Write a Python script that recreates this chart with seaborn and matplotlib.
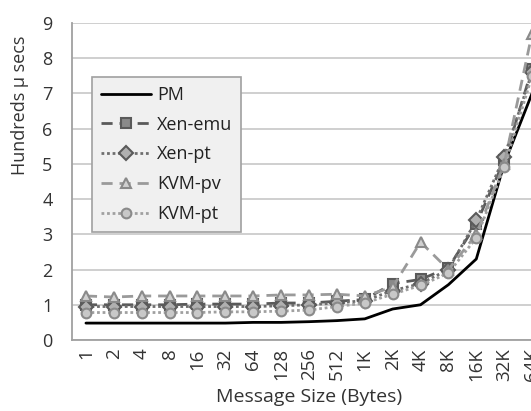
import matplotlib
matplotlib.use("Agg")
import matplotlib.pyplot as plt
from matplotlib.lines import Line2D
import seaborn as sns
import pandas as pd
import numpy as np

sizes = ["1", "2", "4", "8", "16", "32", "64", "128", "256", "512",
         "1K", "2K", "4K", "8K", "16K", "32K", "64K"]

pm = [0.48, 0.48, 0.48, 0.48, 0.48, 0.48, 0.5, 0.5, 0.52, 0.55,
      0.6, 0.88, 1.0, 1.57, 2.3, 5.0, 7.0]
xen_emu = [1.0, 1.0, 1.0, 1.0, 1.02, 1.02, 1.02, 1.05, 1.05, 1.1,
           1.15, 1.6, 1.72, 2.05, 3.3, 5.1, 7.7]
xen_pt = [0.95, 0.95, 0.95, 0.95, 0.95, 0.95, 0.95, 0.97, 1.0, 1.05,
          1.12, 1.4, 1.6, 2.0, 3.4, 5.2, 7.6]
kvm_pv = [1.25, 1.22, 1.25, 1.25, 1.25, 1.25, 1.25, 1.28, 1.28, 1.3,
          1.25, 1.5, 2.78, 2.0, 3.0, 5.0, 8.7]
kvm_pt = [0.78, 0.78, 0.78, 0.78, 0.78, 0.8, 0.8, 0.82, 0.85, 0.95,
          1.05, 1.3, 1.55, 1.9, 2.9, 4.9, 7.5]

series_names = ["PM", "Xen-emu", "Xen-pt", "KVM-pv", "KVM-pt"]
series_values = [pm, xen_emu, xen_pt, kvm_pv, kvm_pt]

# line colour, linestyle, marker, marker edge, marker face
styles = {
    "PM": dict(color="black", ls="-", marker=None, mec="black", mfc="black"),
    "Xen-emu": dict(color="#5a5a5a", ls=(0, (4, 2.5)), marker="s", mec="#5a5a5a", mfc="#8a8a8a"),
    "Xen-pt": dict(color="#6e6e6e", ls=(0, (1, 1)), marker="D", mec="#5a5a5a", mfc="#b0b0b0"),
    "KVM-pv": dict(color="#9a9a9a", ls=(0, (4, 2.5)), marker="^", mec="#8a8a8a", mfc="#d0d0d0"),
    "KVM-pt": dict(color="#a0a0a0", ls=(0, (1, 1)), marker="o", mec="#8a8a8a", mfc="#c8c8c8"),
}

frames = []
for name, vals in zip(series_names, series_values):
    frames.append(pd.DataFrame({"pos": np.arange(len(sizes)), "size": sizes,
                                "value": vals, "series": name}))
df = pd.concat(frames, ignore_index=True)

sns.set_style("white")
plt.rcParams["font.family"] = ["Open Sans", "DejaVu Sans"]

fig = plt.figure(figsize=(5.31, 4.11), dpi=100)
ax = fig.add_axes([72 / 531, 1 - 340 / 411, (546 - 72) / 531, (340 - 23) / 411])

handles = []
for name in series_names:
    st = styles[name]
    sub = df[df["series"] == name]
    sns.lineplot(data=sub, x="pos", y="value", ax=ax, color=st["color"],
                 linestyle=st["ls"], marker=st["marker"], markersize=7,
                 markeredgecolor=st["mec"], markerfacecolor=st["mfc"],
                 markeredgewidth=1.5, linewidth=2, zorder=3)
    handles.append(Line2D([], [], color=st["color"], linestyle=st["ls"],
                          marker=st["marker"], markersize=7,
                          markeredgecolor=st["mec"], markerfacecolor=st["mfc"],
                          markeredgewidth=1.5, linewidth=2))

ax.set_xlim(-0.5, len(sizes) - 0.5)
ax.set_ylim(0, 9)
ax.set_yticks(range(10))
ax.set_xticks(range(len(sizes)))
ax.set_xticklabels(sizes, rotation=90)
ax.set_xticks(np.arange(-0.5, len(sizes), 1), minor=True)
ax.tick_params(axis="x", which="major", length=0, labelsize=13.5, colors="#333333", pad=6)
ax.tick_params(axis="x", which="minor", length=6, width=1.2, color="#a0a0a0")
ax.tick_params(axis="y", length=6, width=1.2, color="#a0a0a0", labelsize=13,
               labelcolor="#333333", pad=8)

ax.grid(axis="y", color="#cccccc", linewidth=1.3)
ax.set_axisbelow(True)
for side in ["top", "right"]:
    ax.spines[side].set_visible(False)
for side in ["left", "bottom"]:
    ax.spines[side].set_color("#a0a0a0")
    ax.spines[side].set_linewidth(1.3)

ax.set_xlabel("Message Size (Bytes)", fontsize=14, color="#333333")
ax.xaxis.set_label_coords((309 - 72) / 474, -0.152)
ax.set_ylabel("Hundreds µ secs", fontsize=13, color="#333333")
ax.yaxis.set_label_coords(-0.09, 0.74)

leg = ax.legend(handles, series_names, loc="upper left", bbox_to_anchor=(0.042, 0.83),
                borderaxespad=0, fontsize=13, handlelength=2.8, labelspacing=0.65,
                handletextpad=0.3, borderpad=0.5, fancybox=False, framealpha=1)
leg.get_frame().set_facecolor("#f0f0f0")
leg.get_frame().set_edgecolor("#a0a0a0")
leg.get_frame().set_linewidth(1.2)
for t in leg.get_texts():
    t.set_color("#222222")

fig.savefig("out.png", dpi=100)
